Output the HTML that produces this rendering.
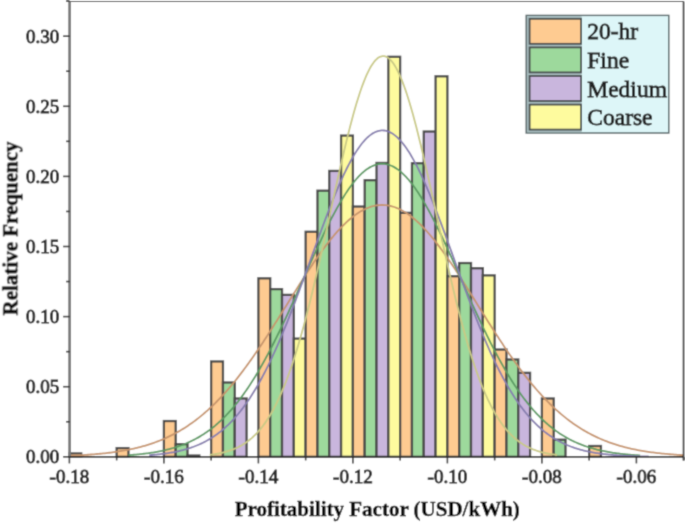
<!DOCTYPE html>
<html><head><meta charset="utf-8"><style>
html,body{margin:0;padding:0;background:#fff;}
body{width:685px;height:523px;overflow:hidden;}
svg{display:block;}
.tk{font-family:"Liberation Serif",serif;font-size:19px;fill:#2a2a2a;stroke:#2a2a2a;stroke-width:0.95px;}
.ttl{font-family:"Liberation Serif",serif;font-size:21px;font-weight:bold;fill:#000;stroke:#000;stroke-width:0.35px;}
.lg{font-family:"Liberation Serif",serif;font-size:23.5px;fill:#1e1e1e;stroke:#1e1e1e;stroke-width:0.85px;}
</style></head><body>
<svg width="685" height="523" viewBox="0 0 685 523">
<defs><filter id="bl" x="0" y="0" width="685" height="523" filterUnits="userSpaceOnUse"><feConvolveMatrix order="3" kernelMatrix="0.0277 0.111 0.0277 0.111 0.445 0.111 0.0277 0.111 0.0277" edgeMode="duplicate" preserveAlpha="true"/></filter></defs>
<g filter="url(#bl)">
<rect x="0" y="0" width="685" height="523" fill="#fff"/>
<rect x="69.40" y="453.44" width="11.81" height="3.36" fill="#FECB91" stroke="#4A4A4A" stroke-width="2.3"/>
<rect x="116.65" y="448.11" width="11.81" height="8.69" fill="#FECB91" stroke="#4A4A4A" stroke-width="2.3"/>
<rect x="163.90" y="421.05" width="11.81" height="35.75" fill="#FECB91" stroke="#4A4A4A" stroke-width="2.3"/>
<rect x="175.71" y="444.18" width="11.81" height="12.62" fill="#9DD99C" stroke="#4A4A4A" stroke-width="2.3"/>
<rect x="187.52" y="455.54" width="11.81" height="1.26" fill="#C9B6DD" stroke="#4A4A4A" stroke-width="2.3"/>
<rect x="211.15" y="361.46" width="11.81" height="95.34" fill="#FECB91" stroke="#4A4A4A" stroke-width="2.3"/>
<rect x="222.96" y="382.49" width="11.81" height="74.31" fill="#9DD99C" stroke="#4A4A4A" stroke-width="2.3"/>
<rect x="234.78" y="398.48" width="11.81" height="58.32" fill="#C9B6DD" stroke="#4A4A4A" stroke-width="2.3"/>
<rect x="258.40" y="278.33" width="11.81" height="178.47" fill="#FECB91" stroke="#4A4A4A" stroke-width="2.3"/>
<rect x="270.21" y="289.12" width="11.81" height="167.68" fill="#9DD99C" stroke="#4A4A4A" stroke-width="2.3"/>
<rect x="282.02" y="294.87" width="11.81" height="161.93" fill="#C9B6DD" stroke="#4A4A4A" stroke-width="2.3"/>
<rect x="293.84" y="338.61" width="11.81" height="118.19" fill="#FEFB9E" stroke="#4A4A4A" stroke-width="2.3"/>
<rect x="305.65" y="231.78" width="11.81" height="225.02" fill="#FECB91" stroke="#4A4A4A" stroke-width="2.3"/>
<rect x="317.46" y="190.70" width="11.81" height="266.10" fill="#9DD99C" stroke="#4A4A4A" stroke-width="2.3"/>
<rect x="329.27" y="170.93" width="11.81" height="285.87" fill="#C9B6DD" stroke="#4A4A4A" stroke-width="2.3"/>
<rect x="341.09" y="135.60" width="11.81" height="321.20" fill="#FEFB9E" stroke="#4A4A4A" stroke-width="2.3"/>
<rect x="352.90" y="206.54" width="11.81" height="250.26" fill="#FECB91" stroke="#4A4A4A" stroke-width="2.3"/>
<rect x="364.71" y="180.19" width="11.81" height="276.61" fill="#9DD99C" stroke="#4A4A4A" stroke-width="2.3"/>
<rect x="376.52" y="162.94" width="11.81" height="293.86" fill="#C9B6DD" stroke="#4A4A4A" stroke-width="2.3"/>
<rect x="388.34" y="56.81" width="11.81" height="399.99" fill="#FEFB9E" stroke="#4A4A4A" stroke-width="2.3"/>
<rect x="400.15" y="212.85" width="11.81" height="243.95" fill="#FECB91" stroke="#4A4A4A" stroke-width="2.3"/>
<rect x="411.96" y="163.22" width="11.81" height="293.58" fill="#9DD99C" stroke="#4A4A4A" stroke-width="2.3"/>
<rect x="423.77" y="131.54" width="11.81" height="325.26" fill="#C9B6DD" stroke="#4A4A4A" stroke-width="2.3"/>
<rect x="435.59" y="76.30" width="11.81" height="380.50" fill="#FEFB9E" stroke="#4A4A4A" stroke-width="2.3"/>
<rect x="447.40" y="276.22" width="11.81" height="180.58" fill="#FECB91" stroke="#4A4A4A" stroke-width="2.3"/>
<rect x="459.21" y="263.04" width="11.81" height="193.76" fill="#9DD99C" stroke="#4A4A4A" stroke-width="2.3"/>
<rect x="471.02" y="268.23" width="11.81" height="188.57" fill="#C9B6DD" stroke="#4A4A4A" stroke-width="2.3"/>
<rect x="482.84" y="275.38" width="11.81" height="181.42" fill="#FEFB9E" stroke="#4A4A4A" stroke-width="2.3"/>
<rect x="494.65" y="349.55" width="11.81" height="107.25" fill="#FECB91" stroke="#4A4A4A" stroke-width="2.3"/>
<rect x="506.46" y="359.50" width="11.81" height="97.30" fill="#9DD99C" stroke="#4A4A4A" stroke-width="2.3"/>
<rect x="518.27" y="372.82" width="11.81" height="83.98" fill="#C9B6DD" stroke="#4A4A4A" stroke-width="2.3"/>
<rect x="541.90" y="398.48" width="11.81" height="58.32" fill="#FECB91" stroke="#4A4A4A" stroke-width="2.3"/>
<rect x="553.71" y="439.70" width="11.81" height="17.10" fill="#9DD99C" stroke="#4A4A4A" stroke-width="2.3"/>
<rect x="589.15" y="446.00" width="11.81" height="10.80" fill="#FECB91" stroke="#4A4A4A" stroke-width="2.3"/>
<polyline points="69.40,455.69 70.94,455.63 72.47,455.57 74.01,455.50 75.54,455.43 77.08,455.36 78.61,455.28 80.15,455.20 81.68,455.11 83.22,455.03 84.76,454.93 86.29,454.84 87.83,454.73 89.36,454.63 90.90,454.52 92.43,454.40 93.97,454.28 95.51,454.16 97.04,454.02 98.58,453.89 100.11,453.74 101.65,453.59 103.18,453.44 104.72,453.27 106.26,453.10 107.79,452.92 109.33,452.74 110.86,452.55 112.40,452.35 113.93,452.14 115.47,451.92 117.00,451.70 118.54,451.46 120.08,451.22 121.61,450.96 123.15,450.70 124.68,450.42 126.22,450.14 127.75,449.84 129.29,449.54 130.83,449.22 132.36,448.89 133.90,448.54 135.43,448.19 136.97,447.82 138.50,447.44 140.04,447.04 141.57,446.63 143.11,446.21 144.65,445.77 146.18,445.32 147.72,444.85 149.25,444.36 150.79,443.86 152.32,443.34 153.86,442.81 155.39,442.26 156.93,441.68 158.47,441.10 160.00,440.49 161.54,439.86 163.07,439.22 164.61,438.55 166.14,437.86 167.68,437.16 169.22,436.43 170.75,435.68 172.29,434.91 173.82,434.11 175.36,433.30 176.89,432.46 178.43,431.60 179.97,430.71 181.50,429.80 183.04,428.86 184.57,427.90 186.11,426.92 187.64,425.91 189.18,424.87 190.71,423.81 192.25,422.72 193.79,421.61 195.32,420.46 196.86,419.30 198.39,418.10 199.93,416.87 201.46,415.62 203.00,414.34 204.54,413.03 206.07,411.69 207.61,410.32 209.14,408.93 210.68,407.50 212.21,406.05 213.75,404.57 215.28,403.05 216.82,401.51 218.36,399.94 219.89,398.34 221.43,396.71 222.96,395.05 224.50,393.36 226.03,391.64 227.57,389.90 229.10,388.12 230.64,386.32 232.18,384.48 233.71,382.62 235.25,380.73 236.78,378.82 238.32,376.87 239.85,374.90 241.39,372.90 242.93,370.88 244.46,368.83 246.00,366.75 247.53,364.65 249.07,362.53 250.60,360.38 252.14,358.21 253.68,356.01 255.21,353.80 256.75,351.56 258.28,349.30 259.82,347.02 261.35,344.73 262.89,342.41 264.42,340.08 265.96,337.73 267.50,335.37 269.03,332.99 270.57,330.60 272.10,328.19 273.64,325.78 275.17,323.35 276.71,320.92 278.24,318.47 279.78,316.02 281.32,313.56 282.85,311.10 284.39,308.63 285.92,306.17 287.46,303.70 288.99,301.23 290.53,298.76 292.07,296.29 293.60,293.83 295.14,291.38 296.67,288.93 298.21,286.49 299.74,284.06 301.28,281.64 302.81,279.24 304.35,276.84 305.89,274.47 307.42,272.11 308.96,269.76 310.49,267.44 312.03,265.14 313.56,262.86 315.10,260.61 316.64,258.38 318.17,256.18 319.71,254.01 321.24,251.87 322.78,249.76 324.31,247.68 325.85,245.64 327.39,243.63 328.92,241.66 330.46,239.73 331.99,237.83 333.53,235.98 335.06,234.17 336.60,232.41 338.13,230.69 339.67,229.02 341.21,227.39 342.74,225.82 344.28,224.29 345.81,222.82 347.35,221.39 348.88,220.02 350.42,218.71 351.96,217.45 353.49,216.24 355.03,215.10 356.56,214.01 358.10,212.98 359.63,212.01 361.17,211.10 362.70,210.25 364.24,209.46 365.78,208.74 367.31,208.07 368.85,207.48 370.38,206.94 371.92,206.47 373.45,206.07 374.99,205.72 376.52,205.45 378.06,205.24 379.60,205.10 381.13,205.02 382.67,205.00 384.20,205.06 385.74,205.18 387.27,205.36 388.81,205.61 390.35,205.93 391.88,206.31 393.42,206.75 394.95,207.26 396.49,207.84 398.02,208.47 399.56,209.17 401.10,209.94 402.63,210.76 404.17,211.65 405.70,212.60 407.24,213.60 408.77,214.67 410.31,215.79 411.84,216.98 413.38,218.22 414.92,219.51 416.45,220.86 417.99,222.26 419.52,223.72 421.06,225.22 422.59,226.78 424.13,228.39 425.66,230.04 427.20,231.74 428.74,233.49 430.27,235.28 431.81,237.12 433.34,238.99 434.88,240.91 436.41,242.87 437.95,244.86 439.49,246.89 441.02,248.95 442.56,251.05 444.09,253.18 445.63,255.34 447.16,257.53 448.70,259.75 450.24,261.99 451.77,264.26 453.31,266.55 454.84,268.87 456.38,271.20 457.91,273.56 459.45,275.93 460.98,278.31 462.52,280.71 464.06,283.13 465.59,285.56 467.13,287.99 468.66,290.44 470.20,292.89 471.73,295.35 473.27,297.81 474.81,300.28 476.34,302.75 477.88,305.22 479.41,307.68 480.95,310.15 482.48,312.62 484.02,315.07 485.55,317.53 487.09,319.98 488.63,322.42 490.16,324.85 491.70,327.27 493.23,329.67 494.77,332.07 496.30,334.46 497.84,336.83 499.38,339.18 500.91,341.52 502.45,343.84 503.98,346.14 505.52,348.43 507.05,350.69 508.59,352.94 510.12,355.16 511.66,357.37 513.20,359.55 514.73,361.70 516.27,363.84 517.80,365.95 519.34,368.03 520.87,370.09 522.41,372.13 523.95,374.13 525.48,376.12 527.02,378.07 528.55,380.00 530.09,381.90 531.62,383.77 533.16,385.61 534.69,387.43 536.23,389.22 537.77,390.97 539.30,392.70 540.84,394.40 542.37,396.07 543.91,397.72 545.44,399.33 546.98,400.91 548.51,402.46 550.05,403.99 551.59,405.48 553.12,406.95 554.66,408.38 556.19,409.79 557.73,411.17 559.26,412.52 560.80,413.84 562.34,415.13 563.87,416.39 565.41,417.63 566.94,418.84 568.48,420.02 570.01,421.17 571.55,422.30 573.09,423.40 574.62,424.47 576.16,425.51 577.69,426.53 579.23,427.53 580.76,428.50 582.30,429.44 583.83,430.36 585.37,431.26 586.91,432.13 588.44,432.98 589.98,433.80 591.51,434.60 593.05,435.38 594.58,436.14 596.12,436.88 597.65,437.59 599.19,438.29 600.73,438.96 602.26,439.62 603.80,440.25 605.33,440.86 606.87,441.46 608.40,442.04 609.94,442.60 611.48,443.14 613.01,443.66 614.55,444.17 616.08,444.66 617.62,445.14 619.15,445.60 620.69,446.04 622.23,446.47 623.76,446.89 625.30,447.29 626.83,447.67 628.37,448.05 629.90,448.41 631.44,448.76 632.97,449.09 634.51,449.41 636.05,449.73 637.58,450.03 639.12,450.31 640.65,450.59 642.19,450.86 643.72,451.12 645.26,451.37 646.79,451.61 648.33,451.84 649.87,452.06 651.40,452.27 652.94,452.47 654.47,452.67 656.01,452.85 657.54,453.03 659.08,453.21 660.62,453.37 662.15,453.53 663.69,453.69 665.22,453.83 666.76,453.97 668.29,454.11 669.83,454.23 671.37,454.36 672.90,454.47 674.44,454.59 675.97,454.69 677.51,454.80 679.04,454.90 680.58,454.99 682.11,455.08 683.65,455.17" fill="none" stroke="#C6946C" stroke-width="1.8"/>
<polyline points="128.46,455.13 129.74,455.05 131.02,454.95 132.30,454.85 133.58,454.75 134.86,454.65 136.14,454.53 137.42,454.42 138.70,454.29 139.98,454.17 141.26,454.03 142.53,453.89 143.81,453.74 145.09,453.59 146.37,453.43 147.65,453.27 148.93,453.09 150.21,452.91 151.49,452.72 152.77,452.52 154.05,452.32 155.33,452.10 156.61,451.88 157.89,451.65 159.17,451.40 160.44,451.15 161.72,450.89 163.00,450.62 164.28,450.33 165.56,450.04 166.84,449.73 168.12,449.41 169.40,449.08 170.68,448.73 171.96,448.38 173.24,448.01 174.52,447.62 175.80,447.22 177.08,446.81 178.35,446.38 179.63,445.94 180.91,445.48 182.19,445.00 183.47,444.51 184.75,444.00 186.03,443.47 187.31,442.92 188.59,442.36 189.87,441.77 191.15,441.17 192.43,440.55 193.71,439.90 194.99,439.24 196.27,438.55 197.54,437.84 198.82,437.11 200.10,436.36 201.38,435.58 202.66,434.78 203.94,433.96 205.22,433.11 206.50,432.23 207.78,431.33 209.06,430.41 210.34,429.46 211.62,428.48 212.90,427.47 214.18,426.44 215.45,425.37 216.73,424.28 218.01,423.16 219.29,422.01 220.57,420.84 221.85,419.63 223.13,418.39 224.41,417.11 225.69,415.81 226.97,414.48 228.25,413.11 229.53,411.71 230.81,410.28 232.09,408.82 233.36,407.32 234.64,405.79 235.92,404.23 237.20,402.64 238.48,401.00 239.76,399.34 241.04,397.64 242.32,395.91 243.60,394.14 244.88,392.34 246.16,390.50 247.44,388.63 248.72,386.73 250.00,384.79 251.27,382.82 252.55,380.81 253.83,378.77 255.11,376.69 256.39,374.59 257.67,372.44 258.95,370.27 260.23,368.06 261.51,365.82 262.79,363.55 264.07,361.25 265.35,358.91 266.63,356.55 267.91,354.15 269.18,351.73 270.46,349.27 271.74,346.79 273.02,344.28 274.30,341.74 275.58,339.18 276.86,336.59 278.14,333.98 279.42,331.34 280.70,328.68 281.98,325.99 283.26,323.29 284.54,320.57 285.82,317.82 287.09,315.06 288.37,312.29 289.65,309.49 290.93,306.68 292.21,303.86 293.49,301.03 294.77,298.19 296.05,295.33 297.33,292.47 298.61,289.60 299.89,286.73 301.17,283.85 302.45,280.97 303.73,278.09 305.01,275.21 306.28,272.33 307.56,269.45 308.84,266.58 310.12,263.72 311.40,260.87 312.68,258.02 313.96,255.19 315.24,252.37 316.52,249.56 317.80,246.78 319.08,244.01 320.36,241.26 321.64,238.53 322.92,235.83 324.19,233.15 325.47,230.50 326.75,227.87 328.03,225.28 329.31,222.72 330.59,220.20 331.87,217.71 333.15,215.25 334.43,212.84 335.71,210.46 336.99,208.13 338.27,205.85 339.55,203.60 340.83,201.41 342.10,199.26 343.38,197.17 344.66,195.12 345.94,193.13 347.22,191.19 348.50,189.31 349.78,187.49 351.06,185.73 352.34,184.02 353.62,182.38 354.90,180.80 356.18,179.29 357.46,177.83 358.74,176.45 360.01,175.13 361.29,173.88 362.57,172.70 363.85,171.59 365.13,170.55 366.41,169.59 367.69,168.69 368.97,167.87 370.25,167.12 371.53,166.45 372.81,165.85 374.09,165.32 375.37,164.88 376.65,164.51 377.92,164.21 379.20,163.99 380.48,163.85 381.76,163.79 383.04,163.80 384.32,163.89 385.60,164.05 386.88,164.30 388.16,164.62 389.44,165.01 390.72,165.49 392.00,166.03 393.28,166.66 394.56,167.36 395.83,168.13 397.11,168.97 398.39,169.89 399.67,170.88 400.95,171.94 402.23,173.08 403.51,174.28 404.79,175.55 406.07,176.89 407.35,178.30 408.63,179.77 409.91,181.31 411.19,182.91 412.47,184.57 413.75,186.29 415.02,188.08 416.30,189.92 417.58,191.82 418.86,193.77 420.14,195.78 421.42,197.84 422.70,199.95 423.98,202.11 425.26,204.32 426.54,206.58 427.82,208.88 429.10,211.23 430.38,213.62 431.66,216.04 432.93,218.51 434.21,221.01 435.49,223.55 436.77,226.12 438.05,228.72 439.33,231.35 440.61,234.01 441.89,236.70 443.17,239.41 444.45,242.15 445.73,244.90 447.01,247.68 448.29,250.47 449.57,253.28 450.84,256.11 452.12,258.94 453.40,261.79 454.68,264.65 455.96,267.51 457.24,270.39 458.52,273.26 459.80,276.14 461.08,279.02 462.36,281.90 463.64,284.78 464.92,287.66 466.20,290.53 467.48,293.40 468.75,296.26 470.03,299.11 471.31,301.95 472.59,304.78 473.87,307.60 475.15,310.40 476.43,313.19 477.71,315.96 478.99,318.72 480.27,321.45 481.55,324.17 482.83,326.87 484.11,329.54 485.39,332.20 486.66,334.83 487.94,337.43 489.22,340.01 490.50,342.57 491.78,345.10 493.06,347.60 494.34,350.07 495.62,352.52 496.90,354.93 498.18,357.32 499.46,359.67 500.74,362.00 502.02,364.29 503.30,366.55 504.57,368.78 505.85,370.98 507.13,373.14 508.41,375.27 509.69,377.37 510.97,379.43 512.25,381.46 513.53,383.46 514.81,385.42 516.09,387.35 517.37,389.24 518.65,391.10 519.93,392.93 521.21,394.72 522.48,396.47 523.76,398.20 525.04,399.88 526.32,401.54 527.60,403.16 528.88,404.74 530.16,406.29 531.44,407.81 532.72,409.30 534.00,410.75 535.28,412.17 536.56,413.56 537.84,414.91 539.12,416.24 540.40,417.53 541.67,418.79 542.95,420.02 544.23,421.22 545.51,422.39 546.79,423.53 548.07,424.64 549.35,425.72 550.63,426.78 551.91,427.80 553.19,428.80 554.47,429.77 555.75,430.71 557.03,431.63 558.31,432.52 559.58,433.39 560.86,434.23 562.14,435.04 563.42,435.84 564.70,436.60 565.98,437.35 567.26,438.07 568.54,438.78 569.82,439.45 571.10,440.11 572.38,440.75 573.66,441.37 574.94,441.96 576.22,442.54 577.49,443.10 578.77,443.64 580.05,444.16 581.33,444.67 582.61,445.16 583.89,445.63 585.17,446.08 586.45,446.52 587.73,446.95 589.01,447.35 590.29,447.75 591.57,448.13 592.85,448.49 594.13,448.85 595.40,449.19 596.68,449.51 597.96,449.83 599.24,450.13 600.52,450.42 601.80,450.71 603.08,450.97 604.36,451.23 605.64,451.48 606.92,451.72 608.20,451.95 609.48,452.17 610.76,452.38 612.04,452.59 613.31,452.78 614.59,452.97 615.87,453.15 617.15,453.32 618.43,453.48 619.71,453.64 620.99,453.79 622.27,453.94 623.55,454.08 624.83,454.21 626.11,454.33 627.39,454.45 628.67,454.57 629.95,454.68 631.22,454.79 632.50,454.89 633.78,454.98 635.06,455.07 636.34,455.16 637.62,455.25 638.90,455.33 640.18,455.40" fill="none" stroke="#5A9A62" stroke-width="1.8"/>
<polyline points="149.25,455.18 150.50,455.09 151.75,454.99 153.00,454.88 154.25,454.77 155.50,454.66 156.74,454.53 157.99,454.41 159.24,454.27 160.49,454.13 161.74,453.98 162.99,453.83 164.24,453.67 165.48,453.49 166.73,453.32 167.98,453.13 169.23,452.93 170.48,452.73 171.73,452.51 172.98,452.29 174.22,452.05 175.47,451.80 176.72,451.55 177.97,451.28 179.22,451.00 180.47,450.70 181.72,450.40 182.96,450.08 184.21,449.74 185.46,449.39 186.71,449.03 187.96,448.65 189.21,448.26 190.46,447.85 191.70,447.42 192.95,446.98 194.20,446.51 195.45,446.03 196.70,445.53 197.95,445.01 199.20,444.47 200.44,443.91 201.69,443.33 202.94,442.72 204.19,442.10 205.44,441.45 206.69,440.77 207.94,440.07 209.18,439.35 210.43,438.60 211.68,437.82 212.93,437.02 214.18,436.19 215.43,435.33 216.68,434.44 217.92,433.52 219.17,432.58 220.42,431.60 221.67,430.59 222.92,429.54 224.17,428.47 225.42,427.36 226.66,426.21 227.91,425.03 229.16,423.82 230.41,422.57 231.66,421.28 232.91,419.96 234.16,418.60 235.40,417.20 236.65,415.76 237.90,414.29 239.15,412.77 240.40,411.21 241.65,409.61 242.90,407.97 244.14,406.29 245.39,404.57 246.64,402.80 247.89,401.00 249.14,399.15 250.39,397.25 251.64,395.31 252.88,393.33 254.13,391.31 255.38,389.24 256.63,387.12 257.88,384.97 259.13,382.76 260.38,380.52 261.62,378.23 262.87,375.89 264.12,373.51 265.37,371.09 266.62,368.62 267.87,366.11 269.12,363.56 270.36,360.96 271.61,358.33 272.86,355.65 274.11,352.92 275.36,350.16 276.61,347.36 277.86,344.52 279.10,341.64 280.35,338.72 281.60,335.77 282.85,332.77 284.10,329.75 285.35,326.69 286.60,323.59 287.85,320.47 289.09,317.31 290.34,314.12 291.59,310.91 292.84,307.66 294.09,304.39 295.34,301.10 296.59,297.79 297.83,294.45 299.08,291.09 300.33,287.72 301.58,284.33 302.83,280.92 304.08,277.51 305.33,274.08 306.57,270.64 307.82,267.20 309.07,263.75 310.32,260.30 311.57,256.84 312.82,253.39 314.07,249.94 315.31,246.50 316.56,243.07 317.81,239.64 319.06,236.23 320.31,232.83 321.56,229.45 322.81,226.09 324.05,222.75 325.30,219.43 326.55,216.14 327.80,212.88 329.05,209.65 330.30,206.45 331.55,203.29 332.79,200.16 334.04,197.08 335.29,194.04 336.54,191.04 337.79,188.10 339.04,185.20 340.29,182.35 341.53,179.56 342.78,176.83 344.03,174.15 345.28,171.54 346.53,168.99 347.78,166.50 349.03,164.09 350.27,161.74 351.52,159.46 352.77,157.26 354.02,155.14 355.27,153.09 356.52,151.12 357.77,149.23 359.01,147.42 360.26,145.70 361.51,144.06 362.76,142.51 364.01,141.05 365.26,139.67 366.51,138.39 367.75,137.20 369.00,136.11 370.25,135.10 371.50,134.20 372.75,133.39 374.00,132.67 375.25,132.05 376.49,131.54 377.74,131.11 378.99,130.79 380.24,130.57 381.49,130.44 382.74,130.42 383.99,130.49 385.23,130.66 386.48,130.94 387.73,131.31 388.98,131.78 390.23,132.34 391.48,133.01 392.73,133.77 393.97,134.63 395.22,135.58 396.47,136.63 397.72,137.77 398.97,139.01 400.22,140.34 401.47,141.75 402.71,143.26 403.96,144.85 405.21,146.53 406.46,148.29 407.71,150.14 408.96,152.07 410.21,154.08 411.45,156.17 412.70,158.33 413.95,160.57 415.20,162.88 416.45,165.26 417.70,167.71 418.95,170.23 420.19,172.81 421.44,175.46 422.69,178.16 423.94,180.92 425.19,183.74 426.44,186.61 427.69,189.53 428.93,192.51 430.18,195.52 431.43,198.58 432.68,201.69 433.93,204.83 435.18,208.01 436.43,211.22 437.67,214.47 438.92,217.75 440.17,221.05 441.42,224.38 442.67,227.73 443.92,231.10 445.17,234.49 446.41,237.90 447.66,241.32 448.91,244.75 450.16,248.19 451.41,251.63 452.66,255.08 453.91,258.54 455.15,261.99 456.40,265.44 457.65,268.89 458.90,272.33 460.15,275.76 461.40,279.18 462.65,282.60 463.89,285.99 465.14,289.38 466.39,292.74 467.64,296.09 468.89,299.41 470.14,302.72 471.39,306.00 472.64,309.25 473.88,312.48 475.13,315.69 476.38,318.86 477.63,322.00 478.88,325.11 480.13,328.19 481.38,331.23 482.62,334.24 483.87,337.22 485.12,340.16 486.37,343.06 487.62,345.92 488.87,348.74 490.12,351.52 491.36,354.26 492.61,356.96 493.86,359.62 495.11,362.24 496.36,364.82 497.61,367.35 498.86,369.84 500.10,372.28 501.35,374.68 502.60,377.04 503.85,379.35 505.10,381.62 506.35,383.85 507.60,386.03 508.84,388.16 510.09,390.26 511.34,392.30 512.59,394.31 513.84,396.27 515.09,398.18 516.34,400.06 517.58,401.89 518.83,403.67 520.08,405.42 521.33,407.12 522.58,408.78 523.83,410.40 525.08,411.98 526.32,413.52 527.57,415.01 528.82,416.47 530.07,417.89 531.32,419.27 532.57,420.61 533.82,421.92 535.06,423.19 536.31,424.42 537.56,425.62 538.81,426.78 540.06,427.90 541.31,429.00 542.56,430.06 543.80,431.08 545.05,432.08 546.30,433.04 547.55,433.98 548.80,434.88 550.05,435.75 551.30,436.60 552.54,437.42 553.79,438.21 555.04,438.97 556.29,439.71 557.54,440.42 558.79,441.10 560.04,441.77 561.28,442.41 562.53,443.02 563.78,443.62 565.03,444.19 566.28,444.74 567.53,445.27 568.78,445.78 570.02,446.27 571.27,446.74 572.52,447.20 573.77,447.63 575.02,448.05 576.27,448.45 577.52,448.84 578.76,449.21 580.01,449.57 581.26,449.91 582.51,450.23 583.76,450.55 585.01,450.85 586.26,451.13 587.50,451.41 588.75,451.67 590.00,451.93 591.25,452.17 592.50,452.40 593.75,452.62 595.00,452.83 596.24,453.03 597.49,453.22 598.74,453.40 599.99,453.58 601.24,453.75 602.49,453.90 603.74,454.06 604.98,454.20 606.23,454.34 607.48,454.47 608.73,454.59 609.98,454.71 611.23,454.83 612.48,454.93 613.72,455.04 614.97,455.13 616.22,455.22 617.47,455.31 618.72,455.39 619.97,455.47 621.22,455.55 622.46,455.62 623.71,455.69 624.96,455.75 626.21,455.81 627.46,455.87 628.71,455.92 629.96,455.97 631.20,456.02 632.45,456.07 633.70,456.11 634.95,456.15 636.20,456.19 637.45,456.23 638.70,456.26 639.94,456.29 641.19,456.33 642.44,456.35 643.69,456.38 644.94,456.41 646.19,456.43 647.44,456.46 648.68,456.48" fill="none" stroke="#857DAE" stroke-width="1.8"/>
<polyline points="209.73,454.86 210.60,454.75 211.47,454.64 212.34,454.53 213.21,454.40 214.07,454.28 214.94,454.14 215.81,454.00 216.68,453.85 217.55,453.70 218.41,453.54 219.28,453.37 220.15,453.19 221.02,453.00 221.89,452.81 222.76,452.61 223.62,452.40 224.49,452.17 225.36,451.94 226.23,451.70 227.10,451.45 227.97,451.19 228.83,450.92 229.70,450.63 230.57,450.33 231.44,450.02 232.31,449.70 233.17,449.36 234.04,449.01 234.91,448.65 235.78,448.27 236.65,447.87 237.52,447.46 238.38,447.04 239.25,446.59 240.12,446.13 240.99,445.65 241.86,445.16 242.72,444.64 243.59,444.11 244.46,443.55 245.33,442.97 246.20,442.38 247.07,441.76 247.93,441.12 248.80,440.45 249.67,439.76 250.54,439.05 251.41,438.32 252.28,437.55 253.14,436.76 254.01,435.95 254.88,435.11 255.75,434.24 256.62,433.34 257.48,432.41 258.35,431.45 259.22,430.46 260.09,429.44 260.96,428.39 261.83,427.30 262.69,426.18 263.56,425.03 264.43,423.85 265.30,422.62 266.17,421.37 267.03,420.07 267.90,418.74 268.77,417.37 269.64,415.96 270.51,414.52 271.38,413.03 272.24,411.51 273.11,409.94 273.98,408.33 274.85,406.68 275.72,404.99 276.59,403.26 277.45,401.48 278.32,399.66 279.19,397.79 280.06,395.88 280.93,393.92 281.79,391.92 282.66,389.88 283.53,387.78 284.40,385.64 285.27,383.46 286.14,381.23 287.00,378.95 287.87,376.62 288.74,374.24 289.61,371.82 290.48,369.35 291.35,366.83 292.21,364.26 293.08,361.65 293.95,358.99 294.82,356.28 295.69,353.52 296.55,350.72 297.42,347.87 298.29,344.97 299.16,342.03 300.03,339.04 300.90,336.00 301.76,332.92 302.63,329.80 303.50,326.63 304.37,323.41 305.24,320.16 306.10,316.86 306.97,313.52 307.84,310.14 308.71,306.72 309.58,303.27 310.45,299.77 311.31,296.24 312.18,292.67 313.05,289.07 313.92,285.44 314.79,281.77 315.66,278.07 316.52,274.34 317.39,270.59 318.26,266.81 319.13,263.00 320.00,259.17 320.86,255.32 321.73,251.45 322.60,247.56 323.47,243.65 324.34,239.73 325.21,235.79 326.07,231.84 326.94,227.89 327.81,223.92 328.68,219.96 329.55,215.98 330.41,212.01 331.28,208.04 332.15,204.07 333.02,200.11 333.89,196.15 334.76,192.20 335.62,188.27 336.49,184.35 337.36,180.45 338.23,176.56 339.10,172.70 339.97,168.86 340.83,165.05 341.70,161.26 342.57,157.51 343.44,153.79 344.31,150.10 345.17,146.46 346.04,142.85 346.91,139.29 347.78,135.77 348.65,132.30 349.52,128.88 350.38,125.51 351.25,122.20 352.12,118.94 352.99,115.75 353.86,112.61 354.73,109.54 355.59,106.54 356.46,103.60 357.33,100.74 358.20,97.95 359.07,95.23 359.93,92.59 360.80,90.03 361.67,87.55 362.54,85.15 363.41,82.83 364.28,80.61 365.14,78.46 366.01,76.41 366.88,74.45 367.75,72.59 368.62,70.81 369.48,69.14 370.35,67.56 371.22,66.07 372.09,64.69 372.96,63.41 373.83,62.22 374.69,61.14 375.56,60.17 376.43,59.29 377.30,58.52 378.17,57.86 379.04,57.30 379.90,56.85 380.77,56.51 381.64,56.27 382.51,56.14 383.38,56.11 384.24,56.20 385.11,56.38 385.98,56.68 386.85,57.08 387.72,57.59 388.59,58.21 389.45,58.93 390.32,59.76 391.19,60.69 392.06,61.72 392.93,62.85 393.79,64.09 394.66,65.43 395.53,66.87 396.40,68.40 397.27,70.04 398.14,71.77 399.00,73.59 399.87,75.51 400.74,77.52 401.61,79.62 402.48,81.81 403.35,84.08 404.21,86.44 405.08,88.89 405.95,91.41 406.82,94.02 407.69,96.70 408.55,99.46 409.42,102.29 410.29,105.19 411.16,108.17 412.03,111.21 412.90,114.31 413.76,117.48 414.63,120.71 415.50,123.99 416.37,127.34 417.24,130.73 418.11,134.18 418.97,137.68 419.84,141.22 420.71,144.81 421.58,148.44 422.45,152.10 423.31,155.81 424.18,159.55 425.05,163.32 425.92,167.12 426.79,170.95 427.66,174.80 428.52,178.67 429.39,182.57 430.26,186.48 431.13,190.41 432.00,194.35 432.86,198.30 433.73,202.26 434.60,206.23 435.47,210.20 436.34,214.17 437.21,218.15 438.07,222.12 438.94,226.08 439.81,230.04 440.68,233.99 441.55,237.93 442.42,241.86 443.28,245.78 444.15,249.67 445.02,253.56 445.89,257.42 446.76,261.26 447.62,265.07 448.49,268.87 449.36,272.64 450.23,276.38 451.10,280.09 451.97,283.77 452.83,287.42 453.70,291.04 454.57,294.62 455.44,298.17 456.31,301.68 457.17,305.15 458.04,308.59 458.91,311.99 459.78,315.35 460.65,318.66 461.52,321.94 462.38,325.17 463.25,328.36 464.12,331.50 464.99,334.60 465.86,337.66 466.73,340.67 467.59,343.64 468.46,346.55 469.33,349.43 470.20,352.25 471.07,355.03 471.93,357.76 472.80,360.44 473.67,363.08 474.54,365.67 475.41,368.21 476.28,370.70 477.14,373.14 478.01,375.54 478.88,377.89 479.75,380.19 480.62,382.45 481.48,384.65 482.35,386.81 483.22,388.93 484.09,391.00 484.96,393.02 485.83,394.99 486.69,396.93 487.56,398.81 488.43,400.65 489.30,402.45 490.17,404.21 491.04,405.92 491.90,407.59 492.77,409.21 493.64,410.80 494.51,412.34 495.38,413.85 496.24,415.31 497.11,416.74 497.98,418.12 498.85,419.47 499.72,420.78 500.59,422.06 501.45,423.29 502.32,424.50 503.19,425.66 504.06,426.80 504.93,427.90 505.80,428.96 506.66,430.00 507.53,431.00 508.40,431.98 509.27,432.92 510.14,433.83 511.00,434.71 511.87,435.57 512.74,436.40 513.61,437.20 514.48,437.97 515.35,438.72 516.21,439.44 517.08,440.14 517.95,440.82 518.82,441.47 519.69,442.10 520.55,442.70 521.42,443.29 522.29,443.85 523.16,444.40 524.03,444.92 524.90,445.43 525.76,445.92 526.63,446.39 527.50,446.84 528.37,447.27 529.24,447.69 530.11,448.09 530.97,448.48 531.84,448.85 532.71,449.21 533.58,449.55 534.45,449.88 535.31,450.19 536.18,450.50 537.05,450.79 537.92,451.07 538.79,451.33 539.66,451.59 540.52,451.84 541.39,452.07 542.26,452.30 543.13,452.51 544.00,452.72 544.86,452.92 545.73,453.11 546.60,453.29 547.47,453.46 548.34,453.62 549.21,453.78 550.07,453.93 550.94,454.08 551.81,454.21 552.68,454.35 553.55,454.47 554.42,454.59 555.28,454.70 556.15,454.81 557.02,454.92" fill="none" stroke="#C9C985" stroke-width="1.8"/>
<line x1="66.6" y1="1.5" x2="683.5" y2="1.5" stroke="#000" stroke-width="1.2"/>
<line x1="683.5" y1="1.5" x2="683.5" y2="460.4" stroke="#000" stroke-width="1.5"/>
<line x1="69.6" y1="1.5" x2="69.6" y2="456.9" stroke="#7A7A7A" stroke-width="2.8"/>
<line x1="69.6" y1="456.9" x2="683.5" y2="456.9" stroke="#333" stroke-width="1.8"/>
<line x1="63.10" y1="456.80" x2="69.6" y2="456.80" stroke="#333" stroke-width="1.6"/>
<text x="59.30" y="463.10" text-anchor="end" class="tk">0.00</text>
<line x1="66.10" y1="421.75" x2="69.6" y2="421.75" stroke="#333" stroke-width="1.6"/>
<line x1="63.10" y1="386.70" x2="69.6" y2="386.70" stroke="#333" stroke-width="1.6"/>
<text x="59.30" y="393.00" text-anchor="end" class="tk">0.05</text>
<line x1="66.10" y1="351.65" x2="69.6" y2="351.65" stroke="#333" stroke-width="1.6"/>
<line x1="63.10" y1="316.60" x2="69.6" y2="316.60" stroke="#333" stroke-width="1.6"/>
<text x="59.30" y="322.90" text-anchor="end" class="tk">0.10</text>
<line x1="66.10" y1="281.55" x2="69.6" y2="281.55" stroke="#333" stroke-width="1.6"/>
<line x1="63.10" y1="246.50" x2="69.6" y2="246.50" stroke="#333" stroke-width="1.6"/>
<text x="59.30" y="252.80" text-anchor="end" class="tk">0.15</text>
<line x1="66.10" y1="211.45" x2="69.6" y2="211.45" stroke="#333" stroke-width="1.6"/>
<line x1="63.10" y1="176.40" x2="69.6" y2="176.40" stroke="#333" stroke-width="1.6"/>
<text x="59.30" y="182.70" text-anchor="end" class="tk">0.20</text>
<line x1="66.10" y1="141.35" x2="69.6" y2="141.35" stroke="#333" stroke-width="1.6"/>
<line x1="63.10" y1="106.30" x2="69.6" y2="106.30" stroke="#333" stroke-width="1.6"/>
<text x="59.30" y="112.60" text-anchor="end" class="tk">0.25</text>
<line x1="66.10" y1="71.25" x2="69.6" y2="71.25" stroke="#333" stroke-width="1.6"/>
<line x1="63.10" y1="36.20" x2="69.6" y2="36.20" stroke="#333" stroke-width="1.6"/>
<text x="59.30" y="42.50" text-anchor="end" class="tk">0.30</text>
<line x1="66.10" y1="1.15" x2="69.6" y2="1.15" stroke="#333" stroke-width="1.6"/>
<line x1="69.40" y1="456.9" x2="69.40" y2="463.40" stroke="#333" stroke-width="1.6"/>
<text x="69.40" y="482.50" text-anchor="middle" class="tk">-0.18</text>
<line x1="116.65" y1="456.9" x2="116.65" y2="460.40" stroke="#333" stroke-width="1.6"/>
<line x1="163.90" y1="456.9" x2="163.90" y2="463.40" stroke="#333" stroke-width="1.6"/>
<text x="163.90" y="482.50" text-anchor="middle" class="tk">-0.16</text>
<line x1="211.15" y1="456.9" x2="211.15" y2="460.40" stroke="#333" stroke-width="1.6"/>
<line x1="258.40" y1="456.9" x2="258.40" y2="463.40" stroke="#333" stroke-width="1.6"/>
<text x="258.40" y="482.50" text-anchor="middle" class="tk">-0.14</text>
<line x1="305.65" y1="456.9" x2="305.65" y2="460.40" stroke="#333" stroke-width="1.6"/>
<line x1="352.90" y1="456.9" x2="352.90" y2="463.40" stroke="#333" stroke-width="1.6"/>
<text x="352.90" y="482.50" text-anchor="middle" class="tk">-0.12</text>
<line x1="400.15" y1="456.9" x2="400.15" y2="460.40" stroke="#333" stroke-width="1.6"/>
<line x1="447.40" y1="456.9" x2="447.40" y2="463.40" stroke="#333" stroke-width="1.6"/>
<text x="447.40" y="482.50" text-anchor="middle" class="tk">-0.10</text>
<line x1="494.65" y1="456.9" x2="494.65" y2="460.40" stroke="#333" stroke-width="1.6"/>
<line x1="541.90" y1="456.9" x2="541.90" y2="463.40" stroke="#333" stroke-width="1.6"/>
<text x="541.90" y="482.50" text-anchor="middle" class="tk">-0.08</text>
<line x1="589.15" y1="456.9" x2="589.15" y2="460.40" stroke="#333" stroke-width="1.6"/>
<line x1="636.40" y1="456.9" x2="636.40" y2="463.40" stroke="#333" stroke-width="1.6"/>
<text x="636.40" y="482.50" text-anchor="middle" class="tk">-0.06</text>
<line x1="683.65" y1="456.9" x2="683.65" y2="460.40" stroke="#333" stroke-width="1.6"/>
<text x="377.3" y="516.2" text-anchor="middle" class="ttl">Profitability Factor (USD/kWh)</text>
<text transform="translate(17.4,228.5) rotate(-90)" text-anchor="middle" class="ttl">Relative Frequency</text>
<rect x="526.2" y="15.4" width="142.6" height="117.6" fill="#DDF6F8" stroke="#4E5E60" stroke-width="1.4"/>
<rect x="527" y="16.2" width="54.6" height="116" fill="#A6BBBD"/>
<rect x="529.6" y="18.80" width="51.5" height="25" fill="#FECB91" stroke="#474C4D" stroke-width="1.8"/>
<text x="587.3" y="39.40" class="lg">20-hr</text>
<rect x="529.6" y="47.40" width="51.5" height="25" fill="#9DD99C" stroke="#474C4D" stroke-width="1.8"/>
<text x="587.3" y="68.00" class="lg">Fine</text>
<rect x="529.6" y="76.00" width="51.5" height="25" fill="#C9B6DD" stroke="#474C4D" stroke-width="1.8"/>
<text x="587.3" y="96.60" class="lg">Medium</text>
<rect x="529.6" y="104.60" width="51.5" height="25" fill="#FEFB9E" stroke="#474C4D" stroke-width="1.8"/>
<text x="587.3" y="125.20" class="lg">Coarse</text>
</g>
</svg>
</body></html>
